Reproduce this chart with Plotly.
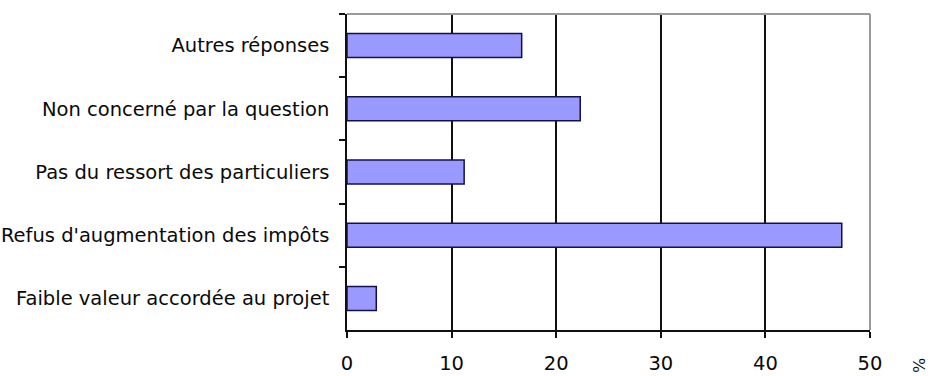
import plotly.graph_objects as go

categories = [
    "Autres réponses",
    "Non concerné par la question",
    "Pas du ressort des particuliers",
    "Refus d'augmentation des impôts",
    "Faible valeur accordée au projet",
]
values = [16.7, 22.3, 11.2, 47.3, 2.8]
x_ticks = [0, 10, 20, 30, 40, 50]
x_unit = "%"

FONT = "DejaVu Sans"

fig = go.Figure()
fig.add_trace(go.Bar(
    x=values,
    y=categories,
    orientation="h",
    marker=dict(color="#9999ff", line=dict(color="#12124a", width=1.5)),
    hoverinfo="skip",
))

fig.update_layout(
    width=932,
    height=376,
    margin=dict(l=347, r=62, t=14, b=46, autoexpand=False),
    paper_bgcolor="white",
    plot_bgcolor="white",
    showlegend=False,
    bargap=0.62,
    font=dict(family=FONT, size=19.5, color="#0a0a0a"),
    xaxis=dict(
        range=[0, 50],
        tickvals=x_ticks,
        ticktext=[str(v) for v in x_ticks],
        showgrid=True,
        gridcolor="#111111",
        gridwidth=1.5,
        showline=True,
        linecolor="#111111",
        linewidth=1.5,
        ticks="outside",
        ticklen=6,
        tickwidth=1.5,
        tickcolor="#111111",
        ticklabelstandoff=9,
        zeroline=False,
        automargin=False,
        fixedrange=True,
    ),
    yaxis=dict(
        autorange="reversed",
        showgrid=False,
        showline=True,
        linecolor="#111111",
        linewidth=1.5,
        ticks="outside",
        tickson="boundaries",
        ticklen=6,
        tickwidth=1.5,
        tickcolor="#111111",
        ticklabelstandoff=12,
        automargin=False,
        fixedrange=True,
    ),
    shapes=[
        dict(type="line", xref="paper", yref="paper", x0=0, x1=1, y0=1, y1=1,
             line=dict(color="#9a9a9a", width=2), layer="above"),
        dict(type="line", xref="paper", yref="paper", x0=1, x1=1, y0=0, y1=1,
             line=dict(color="#9a9a9a", width=2), layer="above"),
    ],
    annotations=[
        dict(text=x_unit, xref="paper", yref="paper", x=1.092, y=-0.11,
             showarrow=False, textangle=90, font=dict(family=FONT, size=16, color="#111111"),
             xanchor="center", yanchor="middle"),
    ],
)

fig.write_html(
    "out.html",
    config={"displayModeBar": False},
    post_script="document.body.style.margin='0';document.body.style.overflow='hidden';",
)
